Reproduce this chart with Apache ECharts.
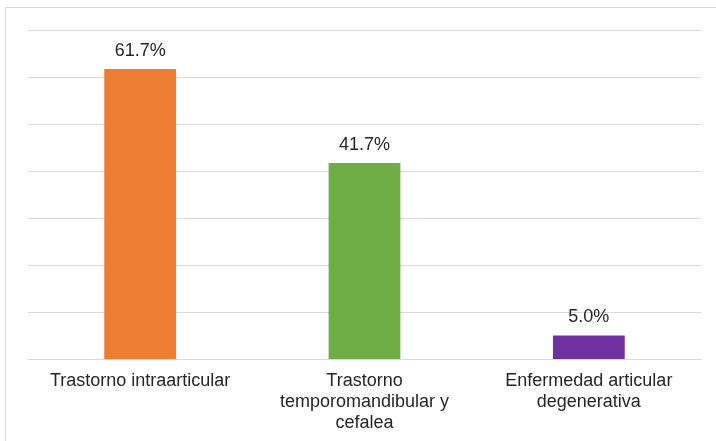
<!DOCTYPE html>
<html>
<head>
<meta charset="utf-8">
<script src="https://cdn.jsdelivr.net/npm/echarts@6/dist/echarts.min.js"></script>
<style>
  html, body { margin: 0; padding: 0; background: #ffffff; }
  #chart { width: 716px; height: 441px; }
</style>
</head>
<body>
<div id="chart"></div>
<script>
// Diagnoses and their share of patients (%)
const categories = [
  'Trastorno intraarticular',
  'Trastorno\ntemporomandibular y\ncefalea',
  'Enfermedad articular\ndegenerativa'
];
const percentages = [61.7, 41.7, 5.0];
const barColors = ['#ED7D31', '#70AD47', '#7030A0'];

const chart = echarts.init(document.getElementById('chart'), null, { renderer: 'canvas' });

chart.setOption({
  backgroundColor: '#ffffff',
  animation: false,
  textStyle: { fontFamily: '"Liberation Sans", Arial, sans-serif' },
  graphic: [{
    type: 'rect',
    shape: { x: 5.5, y: 7.5, width: 760, height: 480 },
    style: { fill: 'none', stroke: '#d9d9d9', lineWidth: 1 },
    silent: true
  }],
  grid: { left: 28, right: 15, top: 30, bottom: 82, containLabel: false },
  xAxis: {
    type: 'category',
    data: categories,
    axisLine: { show: true, lineStyle: { color: '#d9d9d9', width: 1 } },
    axisTick: { show: false },
    axisLabel: {
      color: '#262626',
      fontSize: 18,
      lineHeight: 21,
      margin: 12,
      interval: 0,
      fontFamily: '"Liberation Sans", Arial, sans-serif'
    }
  },
  yAxis: {
    type: 'value',
    min: 0,
    max: 70,
    interval: 10,
    axisLine: { show: false },
    axisTick: { show: false },
    axisLabel: { show: false },
    splitLine: { show: true, lineStyle: { color: '#d9d9d9', width: 1 } }
  },
  series: [{
    type: 'bar',
    barWidth: '32%',
    data: percentages.map((v, i) => ({ value: v, itemStyle: { color: barColors[i] } })),
    label: {
      show: true,
      position: 'top',
      distance: 9,
      color: '#262626',
      fontSize: 18,
      fontFamily: '"Liberation Sans", Arial, sans-serif',
      formatter: p => p.value.toFixed(1) + '%'
    }
  }]
});
</script>
</body>
</html>
